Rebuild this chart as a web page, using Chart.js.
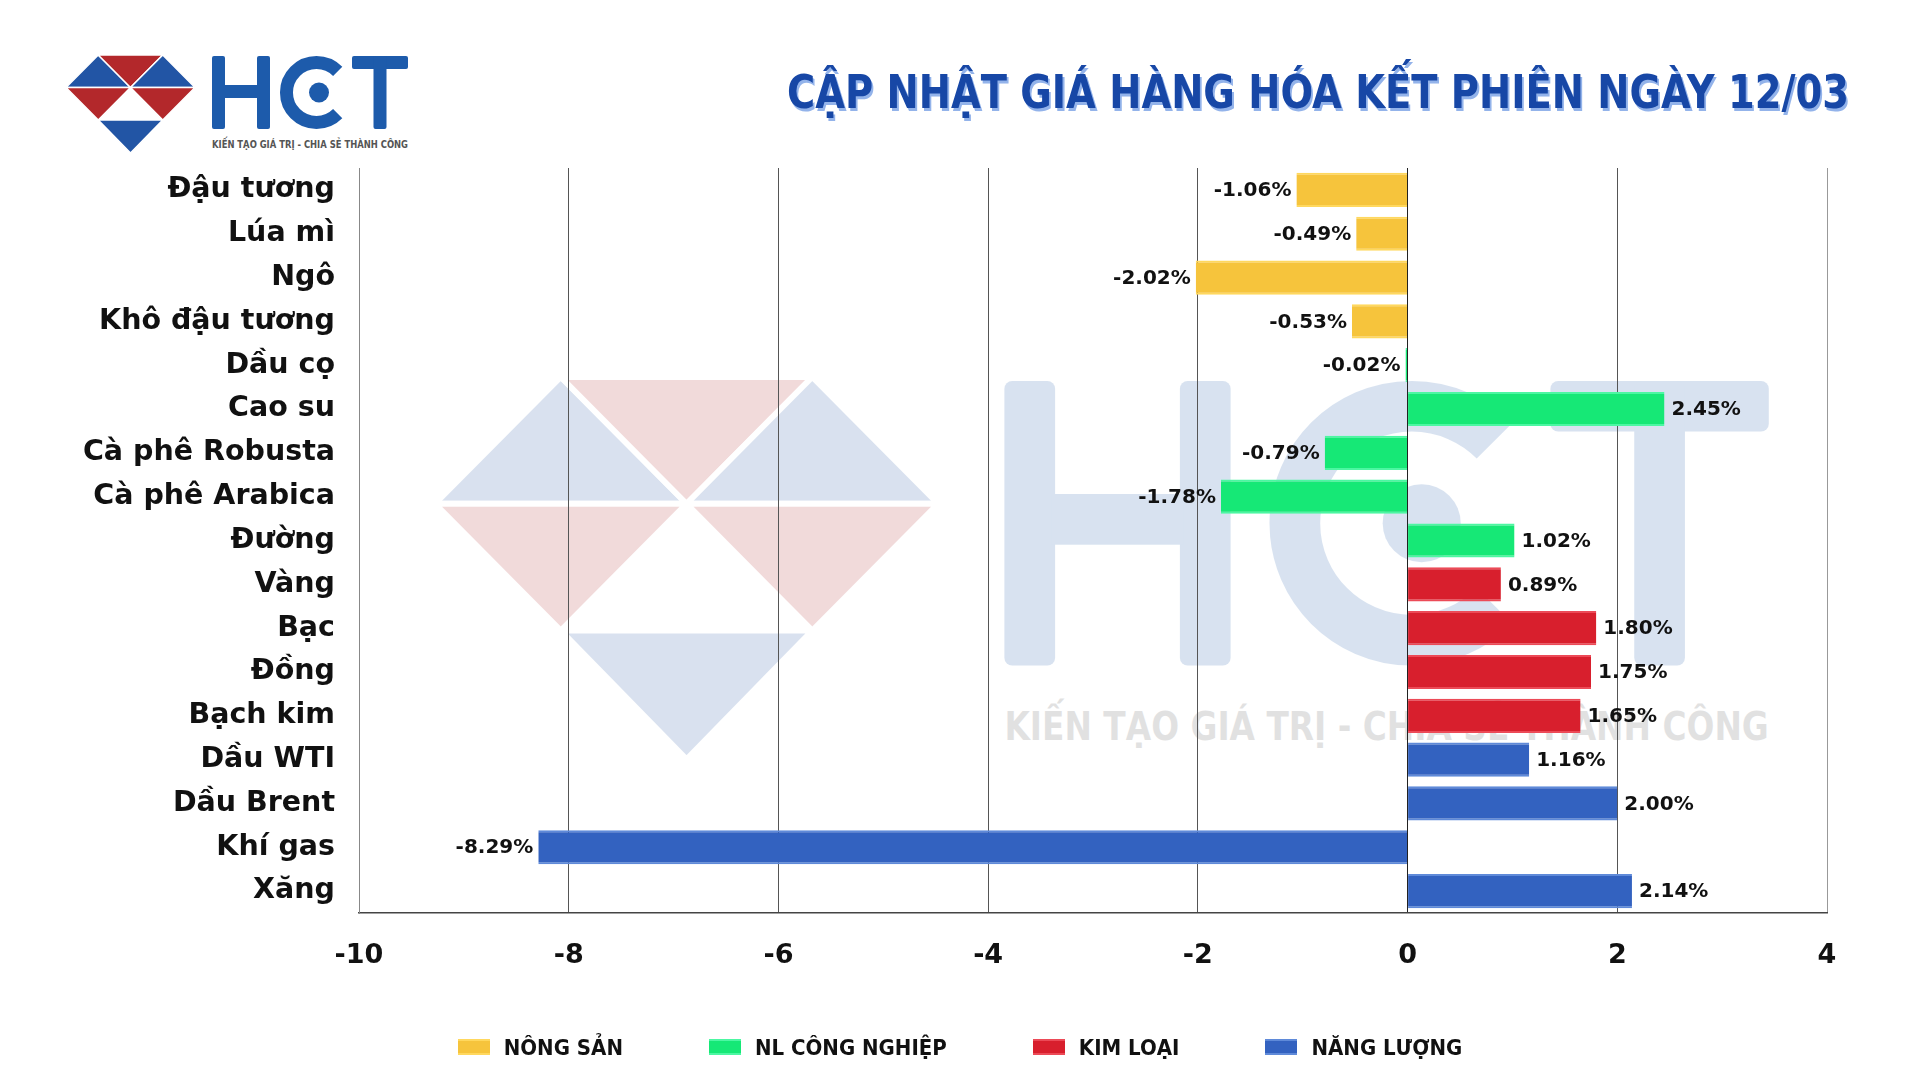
<!DOCTYPE html>
<html lang="vi">
<head>
<meta charset="utf-8">
<title>Cập nhật giá hàng hóa kết phiên ngày 12/03</title>
<script src="https://cdn.jsdelivr.net/npm/chart.js@4.4.1/dist/chart.umd.min.js"></script>
<style>
    html, body { margin: 0; padding: 0; background: #fff; }
    #wrap { position: relative; width: 1920px; height: 1080px; overflow: hidden; background: #fff; }
    #art { position: absolute; left: 0; top: 0; }
    #chart { position: absolute; left: 0; top: 0; }
    #title {
        position: absolute; right: 71px; top: 62px;
        font-family: "DejaVu Sans Condensed", "DejaVu Sans", sans-serif;
        font-stretch: condensed; font-weight: 700; font-size: 46px; line-height: 60px;
        color: #1747a6; white-space: nowrap;
        text-shadow: 2px 3px 0 #93b3ea;
        transform-origin: right center;
    }
    #legend {
        position: absolute; left: 0; width: 1920px; top: 1034px;
        display: flex; justify-content: center; gap: 86px;
        font-family: "DejaVu Sans Condensed", "DejaVu Sans", sans-serif;
        font-stretch: condensed; font-weight: 700; font-size: 22px; color: #111;
    }
    #legend .item { display: flex; align-items: center; height: 26px; }
    #legend .box { width: 32px; height: 16px; margin-right: 14px; }
</style>
</head>
<body>
<div id="wrap">
    <svg id="art" width="1920" height="1080" xmlns="http://www.w3.org/2000/svg">
        <defs>
            <g id="hct">
                <!-- diamond -->
                <g stroke="#fff" stroke-width="1.5" stroke-linejoin="round">
                    <polygon points="0,32.5 32.25,0 64.5,32.5" fill="#2255a5"/>
                    <polygon points="32.25,0 96.75,0 64.5,32.5" fill="#b3282b"/>
                    <polygon points="64.5,32.5 96.75,0 129,32.5" fill="#2255a5"/>
                    <polygon points="0,32.5 64.5,32.5 32.25,65" fill="#b3282b"/>
                    <polygon points="64.5,32.5 129,32.5 96.75,65" fill="#b3282b"/>
                    <polygon points="32.25,65 96.75,65 64.5,98" fill="#2255a5"/>
                </g>
                <!-- H, T and the dot of the C -->
                <g fill="#1d5bab">
                    <rect x="146" y="1" width="13" height="73" rx="2"/>
                    <rect x="191" y="1" width="13" height="73" rx="2"/>
                    <rect x="158" y="30" width="34" height="13"/>
                    <rect x="286" y="1" width="56" height="13" rx="2"/>
                    <rect x="307.5" y="1" width="13" height="73" rx="2"/>
                    <circle cx="253" cy="37.5" r="10"/>
                </g>
                <!-- C -->
                <path d="M 271.7 16.3 A 30 30 0 1 0 271.7 58.7" fill="none" stroke="#1d5bab" stroke-width="13"/>
                <text x="146" y="93" textLength="196" lengthAdjust="spacingAndGlyphs"
                      font-family="DejaVu Sans Condensed, DejaVu Sans, sans-serif" font-weight="700"
                      font-size="10" fill="#555">KIẾN TẠO GIÁ TRỊ - CHIA SẺ THÀNH CÔNG</text>
            </g>
        </defs>
        <use href="#hct" transform="translate(435,377) scale(3.9)" opacity="0.17"/>
        <use href="#hct" transform="translate(66,55)"/>
    </svg>
    <canvas id="chart" width="1920" height="1080"></canvas>
    <div id="title">CẬP NHẬT GIÁ HÀNG HÓA KẾT PHIÊN NGÀY 12/03</div>
    <div id="legend"></div>
</div>
<script>
const categories = ['Đậu tương', 'Lúa mì', 'Ngô', 'Khô đậu tương', 'Dầu cọ', 'Cao su',
    'Cà phê Robusta', 'Cà phê Arabica', 'Đường', 'Vàng', 'Bạc', 'Đồng', 'Bạch kim',
    'Dầu WTI', 'Dầu Brent', 'Khí gas', 'Xăng'];
const changes = [-1.06, -0.49, -2.02, -0.53, -0.02, 2.45, -0.79, -1.78, 1.02,
    0.89, 1.80, 1.75, 1.65, 1.16, 2.00, -8.29, 2.14];
// which group each commodity belongs to (index into groups)
const groupOf = [0, 0, 0, 0, 1, 1, 1, 1, 1, 2, 2, 2, 2, 3, 3, 3, 3];
const groups = ['NÔNG SẢN', 'NL CÔNG NGHIỆP', 'KIM LOẠI', 'NĂNG LƯỢNG'];
const groupColors = ['#f6c43c', '#16e876', '#d81f2d', '#3362c0'];
const groupEdges = ['#ffd85e', '#4cf7a2', '#ec4a57', '#5f8ad9'];
const xMin = -10, xMax = 4, xStep = 2;

const LABEL_FONT = '"DejaVu Sans", sans-serif';

const datasets = groups.map((g, gi) => ({
    label: g,
    data: changes.map((v, i) => groupOf[i] === gi ? v : null),
    backgroundColor: groupColors[gi],
    borderColor: groupEdges[gi],
    borderWidth: { top: 2, bottom: 2, left: 0, right: 0 },
    borderSkipped: false,
    grouped: false,
    barPercentage: 0.78,
    categoryPercentage: 1.0
}));

// value labels next to each bar end
const valueLabels = {
    id: 'valueLabels',
    afterDatasetsDraw(chart) {
        const ctx = chart.ctx;
        ctx.save();
        ctx.font = 'bold 20px ' + LABEL_FONT;
        ctx.fillStyle = '#111';
        ctx.textBaseline = 'middle';
        chart.data.datasets.forEach((ds, di) => {
            chart.getDatasetMeta(di).data.forEach((bar, i) => {
                const v = ds.data[i];
                if (v === null || v === undefined) return;
                const neg = v < 0;
                ctx.textAlign = neg ? 'right' : 'left';
                ctx.fillText(v.toFixed(2) + '%', bar.x + (neg ? -5 : 7), bar.y + 1);
            });
        });
        ctx.restore();
    }
};

new Chart(document.getElementById('chart').getContext('2d'), {
    type: 'bar',
    data: { labels: categories, datasets: datasets },
    options: {
        indexAxis: 'y',
        responsive: false,
        animation: false,
        devicePixelRatio: 1,
        layout: { padding: { top: 168, right: 93, bottom: 97, left: 0 } },
        plugins: {
            legend: { display: false },
            tooltip: { enabled: false }
        },
        scales: {
            x: {
                min: xMin,
                max: xMax,
                ticks: {
                    stepSize: xStep,
                    color: '#111',
                    padding: 27,
                    font: { family: LABEL_FONT, size: 27, weight: 'bold' }
                },
                grid: {
                    drawTicks: false,
                    color: c => c.tick.value === 0 ? '#222' : (c.tick.value === xMax ? '#999' : '#555'),
                    lineWidth: 1
                },
                border: { display: true, color: '#444', width: 1.5 },
                afterFit: s => { s.height = 70; }
            },
            y: {
                ticks: {
                    color: '#111',
                    padding: 16,
                    font: { family: LABEL_FONT, size: 28.5, weight: 'bold' }
                },
                grid: { display: false },
                border: { display: true, color: '#888', width: 1 },
                afterFit: s => { s.width = 359; }
            }
        }
    },
    plugins: [valueLabels]
});

// legend built from the same groups/colours
const legend = document.getElementById('legend');
groups.forEach((g, gi) => {
    const item = document.createElement('div');
    item.className = 'item';
    const box = document.createElement('span');
    box.className = 'box';
    box.style.background = `linear-gradient(${groupEdges[gi]} 0 12%, ${groupColors[gi]} 12% 88%, ${groupEdges[gi]} 88%)`;
    const txt = document.createElement('span');
    txt.textContent = g;
    item.appendChild(box);
    item.appendChild(txt);
    legend.appendChild(item);
});

// squeeze the title to the width it has in the picture
const title = document.getElementById('title');
const tw = title.getBoundingClientRect().width;
title.style.transform = `scaleX(${1062 / tw})`;
</script>
</body>
</html>
